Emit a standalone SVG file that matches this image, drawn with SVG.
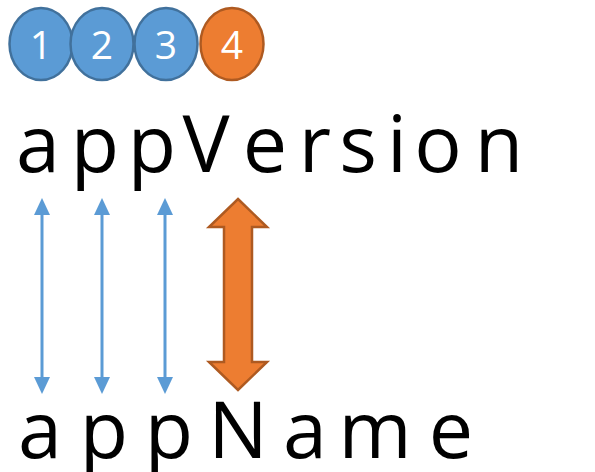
<svg xmlns="http://www.w3.org/2000/svg" width="595" height="472" viewBox="0 0 595 472">
<defs>
<style>
.blue{fill:#5B9BD5;stroke:#41719C;stroke-width:2.5}
.orange{fill:#ED7D31;stroke:#AE5A21;stroke-width:2.5}
.num{font-family:"Open Sans","Noto Sans",sans-serif;font-size:39px;fill:#fff;text-anchor:middle}
.word{font-family:"Open Sans","Noto Sans",sans-serif;font-size:79px;fill:#000;text-anchor:middle}
.bl{stroke:#5B9BD5;stroke-width:3;fill:none}
.bh{fill:#5B9BD5}
</style>
</defs>
<rect width="595" height="472" fill="#fff"/>
<g id="circle1"><ellipse class="blue" cx="41" cy="44" rx="31.5" ry="36"/><text class="num" x="41" y="59">1</text></g>
<g id="circle2"><ellipse class="blue" cx="102" cy="44" rx="31.5" ry="36"/><text class="num" x="102" y="59">2</text></g>
<g id="circle3"><ellipse class="blue" cx="166" cy="44" rx="31.5" ry="36"/><text class="num" x="166" y="59">3</text></g>
<g id="circle4"><ellipse class="orange" cx="232" cy="44" rx="31.5" ry="36"/><text class="num" x="232" y="59">4</text></g>
<g id="appVersion">
<text class="word" x="38" y="172">a</text>
<text class="word" x="95" y="172">p</text>
<text class="word" x="152" y="172">p</text>
<text class="word" x="206" y="172">V</text>
<text class="word" x="265" y="172">e</text>
<text class="word" x="315" y="172">r</text>
<text class="word" x="358" y="172">s</text>
<text class="word" x="397" y="172">i</text>
<text class="word" x="438" y="172">o</text>
<text class="word" x="499" y="172">n</text>
</g>
<g id="appName">
<text class="word" x="40" y="458">a</text>
<text class="word" x="104" y="458">p</text>
<text class="word" x="169" y="458">p</text>
<text class="word" x="238" y="458">N</text>
<text class="word" x="305" y="458">a</text>
<text class="word" x="375" y="458">m</text>
<text class="word" x="451" y="458">e</text>
</g>
<g id="connectors">
<line class="bl" x1="42" y1="212" x2="42" y2="380"/>
<polygon class="bh" points="42,198 34,215 50,215"/>
<polygon class="bh" points="42,394 34,377 50,377"/>
<line class="bl" x1="102" y1="212" x2="102" y2="380"/>
<polygon class="bh" points="102,198 94,215 110,215"/>
<polygon class="bh" points="102,394 94,377 110,377"/>
<line class="bl" x1="165" y1="212" x2="165" y2="380"/>
<polygon class="bh" points="165,198 157,215 173,215"/>
<polygon class="bh" points="165,394 157,377 173,377"/>
<polygon class="orange" stroke-linejoin="miter" points="238,199 267,227 252,227 252,362 267,362 238,390 209,362 224,362 224,227 209,227"/>
</g>
</svg>
